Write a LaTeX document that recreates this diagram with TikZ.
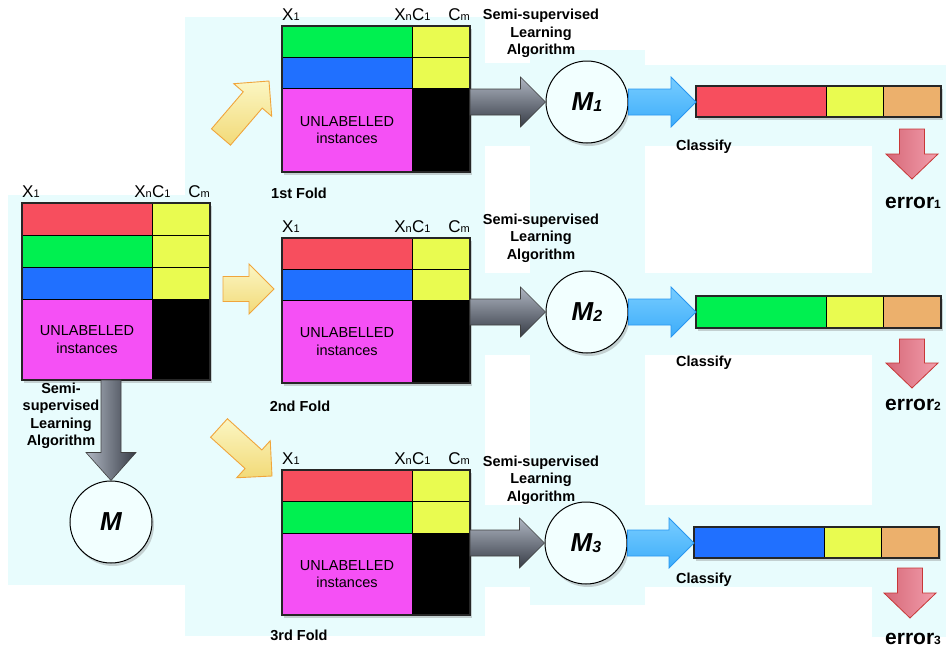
\documentclass[tikz,border=0pt]{standalone}
\usepackage{fontspec}
\setmainfont{Liberation Sans}
\usetikzlibrary{calc,shadows}
\definecolor{bgc}{RGB}{232,252,253}
\definecolor{cred}{RGB}{247,78,94}
\definecolor{cgreen}{RGB}{0,240,80}
\definecolor{cblue}{RGB}{32,112,255}
\definecolor{cmag}{RGB}{245,80,245}
\definecolor{cyel}{RGB}{233,251,80}
\definecolor{corange}{RGB}{236,176,108}
\definecolor{circfill}{RGB}{242,255,255}
\definecolor{redL}{RGB}{214,104,120}
\definecolor{redR}{RGB}{242,158,172}
\definecolor{redD}{RGB}{200,55,55}
\definecolor{yelT}{RGB}{251,246,195}
\definecolor{yelB}{RGB}{242,218,120}
\definecolor{yelD}{RGB}{240,165,60}
\definecolor{bluT}{RGB}{120,205,255}
\definecolor{bluB}{RGB}{60,172,250}
\definecolor{bluD}{RGB}{40,150,240}
\definecolor{grT}{RGB}{175,182,194}
\definecolor{grB}{RGB}{55,60,70}

\newcommand\lo[2][11]{\raisebox{-0.5pt}{\fontsize{#1}{#1}\selectfont #2}}

% #1 style, #2 from, #3 to, #4 shaft half width, #5 head half width, #6 head length
\newcommand\fatarrow[6]{%
  \coordinate (fab) at ($#3!#6!#2$);
  \path[#1] ($#2!#4!90:#3$) -- ($(fab)!#4!90:#3$) -- ($(fab)!#5!90:#3$) -- #3
    -- ($(fab)!#5!-90:#3$) -- ($(fab)!#4!-90:#3$) -- ($#2!#4!-90:#3$) -- cycle;
}

% #1 name, #2 x, #3 y, #4 colours, #5 row height, #6 rows, #7 unlabelled height
\newcommand\mktable[7]{%
  \node[tabbox, minimum width=188pt, minimum height={#5*#6+#7}, anchor=north west] (#1) at (#2,#3) {};
  \foreach \c [count=\i] in {#4} {
    \node[cell, fill=\c, minimum width=130pt, minimum height=#5pt, anchor=north west] (#1f\i) at ($(#1.north west)+(0,{(\i-1)*#5})$) {};
    \node[cell, fill=cyel, minimum width=58pt, minimum height=#5pt, anchor=north west] (#1y\i) at ($(#1.north west)+(130,{(\i-1)*#5})$) {};
  }
  \node[cell, unl, fill=cmag, minimum width=130pt, minimum height=#7pt, anchor=north west] (#1u) at ($(#1.north west)+(0,{#5*#6})$) {UNLABELLED\\instances};
  \node[cell, fill=black, minimum width=58pt, minimum height=#7pt, anchor=north west] (#1k) at ($(#1.north west)+(130,{#5*#6})$) {};
  \draw[tabline] (#1.north west) rectangle (#1.south east);
  \node[lab, anchor=base west] (#1lx) at ($(#1.north west)+(0,-6)$) {X\lo{1}};
  \node[lab, anchor=base east] (#1ln) at ($(#1.north west)+(130,-6)$) {X\lo{n}};
  \node[lab, anchor=base west] (#1lc) at ($(#1.north west)+(130,-6)$) {C\lo{1}};
  \node[lab, anchor=base east] (#1lm) at ($(#1.north east)+(0,-6)$) {C\lo{m}};
}

% #1 name, #2 x, #3 y, #4 height, #5 colour
\newcommand\mkbar[5]{%
  \node[tabbox, minimum width=245pt, minimum height=#4pt, anchor=north west] (#1) at (#2,#3) {};
  \node[cell, fill=#5, minimum width=130pt, minimum height=#4pt, anchor=north west] (#1a) at (#1.north west) {};
  \node[cell, fill=cyel, minimum width=57pt, minimum height=#4pt, anchor=north west] (#1b) at (#1a.north east) {};
  \node[cell, fill=corange, minimum width=58pt, minimum height=#4pt, anchor=north west] (#1c) at (#1b.north east) {};
  \draw[tabline] (#1.north west) rectangle (#1.south east);
}

\tikzset{
  tabbox/.style={fill=white, inner sep=0pt, outer sep=0pt,
    drop shadow={opacity=0.35, shadow xshift=2pt, shadow yshift=-3pt}},
  cell/.style={draw=black, line width=0.8pt, inner sep=0pt, outer sep=0pt},
  tabline/.style={draw=black!85, line width=1.2pt},
  unl/.style={align=center, font=\fontsize{14.5}{17.5}\selectfont},
  lab/.style={inner sep=0pt, font=\fontsize{17}{18}\selectfont},
  btxt/.style={inner sep=0pt, align=center, font=\bfseries\fontsize{14.5}{17.5}\selectfont},
  model/.style={circle, draw=black, line width=1pt, fill=circfill, minimum size=82pt, inner sep=0pt,
    drop shadow={opacity=0.35, shadow xshift=2pt, shadow yshift=-3pt},
    font=\bfseries\itshape\fontsize{26}{26}\selectfont},
  errtxt/.style={inner sep=0pt, font=\bfseries\fontsize{21}{21}\selectfont},
  grayarrow/.style={draw=black!75, line width=0.6pt, top color=grT, bottom color=grB},
  grayarrowv/.style={draw=black!75, line width=0.6pt, left color=grT, right color=grB},
  bluearrow/.style={draw=bluD, line width=0.8pt, top color=bluT, bottom color=bluB},
  yelarrow/.style={draw=yelD, line width=0.9pt, top color=yelT, bottom color=yelB},
  redarrow/.style={draw=redD, line width=0.8pt, left color=redL, right color=redR}
}

\begin{document}
\begin{tikzpicture}[x=1pt, y=-1pt]
\useasboundingbox (0,0) rectangle (946,651);
% background
\fill[bgc] (8,195) rectangle (185,585);
\fill[bgc] (185,17) rectangle (485,636);
\fill[bgc] (485,63) rectangle (530,146);
\fill[bgc] (485,273) rectangle (530,355);
\fill[bgc] (485,505) rectangle (530,587);
\fill[bgc] (530,50) rectangle (645,605);
\fill[bgc] (645,65) rectangle (946,637);
\fill[white] (645,146) rectangle (872,273);
\fill[white] (645,355) rectangle (872,505);
\fill[white] (645,587) rectangle (872,651);

% model circles
\node[model] (M) at (111,522) {M};
\node[model] (M1) at (587,102) {M\lo[16]{1}};
\node[model] (M2) at (587,312) {M\lo[16]{2}};
\node[model] (M3) at (586,543) {M\lo[16]{3}};

% tables
\mktable{L}{22}{203}{cred,cgreen,cblue}{32}{3}{81}
\mktable{T}{282}{26}{cgreen,cblue}{31}{2}{84}
\mktable{U}{282}{238}{cred,cblue}{31}{2}{83}
\mktable{V}{282}{470}{cred,cgreen}{31.5}{2}{82}

% result bars
\mkbar{Ba}{696}{86}{31}{cred}
\mkbar{Bb}{696}{296}{32}{cgreen}
\mkbar{Bc}{694}{527}{31}{cblue}

% gray arrows
\coordinate (g0) at (M.north |- L.south);
\fatarrow{grayarrowv}{(g0)}{(M.north)}{10pt}{25pt}{28pt}
\coordinate (g1) at (T.east |- M1.west);
\fatarrow{grayarrow}{(g1)}{(M1.west)}{13pt}{25pt}{25pt}
\coordinate (g2) at (U.east |- M2.west);
\fatarrow{grayarrow}{(g2)}{(M2.west)}{13pt}{25pt}{25pt}
\coordinate (g3) at (V.east |- M3.west);
\fatarrow{grayarrow}{(g3)}{(M3.west)}{13pt}{25pt}{25pt}

% blue arrows
\coordinate (b1) at (Ba.west |- M1.east);
\fatarrow{bluearrow}{(M1.east)}{(b1)}{13pt}{25pt}{25pt}
\coordinate (b2) at (Bb.west |- M2.east);
\fatarrow{bluearrow}{(M2.east)}{(b2)}{13pt}{25pt}{25pt}
\coordinate (b3) at (Bc.west |- M3.east);
\fatarrow{bluearrow}{(M3.east)}{(b3)}{13pt}{25pt}{25pt}

% yellow arrows
\coordinate (ya1) at (221,137);
\coordinate (yb1) at (269,81);
\fatarrow{yelarrow}{(ya1)}{(yb1)}{12.5pt}{25pt}{25pt}
\coordinate (ya2) at (223,289);
\coordinate (yb2) at (274,289);
\fatarrow{yelarrow}{(ya2)}{(yb2)}{12.5pt}{25pt}{25pt}
\coordinate (ya3) at (219,428);
\coordinate (yb3) at (272,476);
\fatarrow{yelarrow}{(ya3)}{(yb3)}{12.5pt}{25pt}{25pt}

% error arrows
\coordinate (ra1) at ([xshift=-29pt,yshift=-12pt]Ba.south east);
\coordinate (rb1) at ([xshift=-29pt,yshift=-62pt]Ba.south east);
\fatarrow{redarrow}{(ra1)}{(rb1)}{12.5pt}{26pt}{25pt}
\coordinate (ra2) at ([xshift=-29pt,yshift=-11pt]Bb.south east);
\coordinate (rb2) at ([xshift=-29pt,yshift=-60pt]Bb.south east);
\fatarrow{redarrow}{(ra2)}{(rb2)}{12.5pt}{26pt}{25pt}
\coordinate (ra3) at ([xshift=-29pt,yshift=-10pt]Bc.south east);
\coordinate (rb3) at ([xshift=-29pt,yshift=-60pt]Bc.south east);
\fatarrow{redarrow}{(ra3)}{(rb3)}{12.5pt}{26pt}{25pt}

% texts
\node[btxt] (sL) at (61,416) {Semi-\\supervised\\Learning\\Algorithm};
\node[btxt] (s1) at (541,33.5) {Semi-supervised\\Learning\\Algorithm};
\node[btxt] (s2) at (541,238) {Semi-supervised\\Learning\\Algorithm};
\node[btxt] (s3) at (541,480) {Semi-supervised\\Learning\\Algorithm};
\node[btxt] (f1) at (299,193) {1st Fold};
\node[btxt] (f2) at (300,406) {2nd Fold};
\node[btxt] (f3) at (299,635) {3rd Fold};
\node[btxt] (c1) at (704,147) {Classify};
\node[btxt] (c2) at (704,363) {Classify};
\node[btxt] (c3) at (704,580) {Classify};
\node[errtxt] (e1) at (913,203) {error\lo[12]{1}};
\node[errtxt] (e2) at (913,405) {error\lo[12]{2}};
\node[errtxt] (e3) at (913,639) {error\lo[12]{3}};
\end{tikzpicture}
\end{document}
